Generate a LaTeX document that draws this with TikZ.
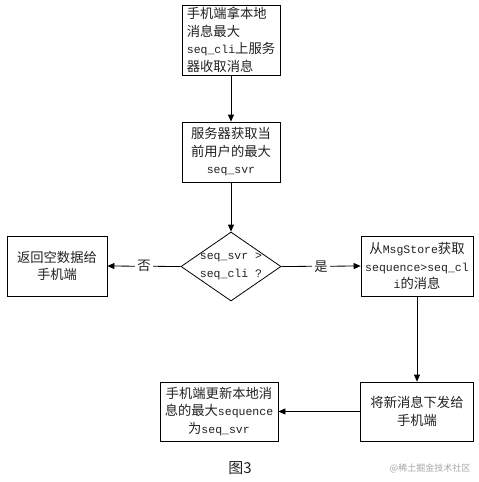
\documentclass[tikz,border=0pt]{standalone}
\usepackage{fontspec}
\setmainfont{Noto Sans CJK SC}
\newfontfamily\latmono{Liberation Mono}
\usetikzlibrary{shapes.geometric,arrows.meta}
\newcommand{\lm}[1]{{\latmono\fontsize{11.5}{17.5}\selectfont #1}}
\definecolor{txt}{HTML}{222222}
\tikzset{
  box/.style={draw=black, line width=0.8pt, inner sep=0pt, text=txt,
    font=\fontsize{13.3}{17.5}\selectfont, align=center},
  arr/.style={draw=black, line width=0.8pt, -{Triangle[length=7pt,width=6pt]}},
  lab/.style={fill=white, inner sep=2pt, text=txt, font=\fontsize{13.3}{15}\selectfont}
}
\begin{document}
\begin{tikzpicture}[x=1pt,y=-1pt]
\fill[white] (0,0) rectangle (479,482);
\useasboundingbox (0,0) rectangle (479,482);
\node[box, align=left, minimum width=98pt, minimum height=70pt] (b1) at (231,40)
  {手机端拿本地\\消息最大\\\lm{seq\_cli}上服务\\器收取消息};
\node[box, minimum width=98pt, minimum height=60pt] (b2) at (231,152)
  {服务器获取当\\前用户的最大\\\lm{seq\_svr}};
\node[draw=black, line width=0.8pt, shape=diamond, inner sep=0pt,
  minimum width=100pt, minimum height=69pt] (d) at (231,266.5) {};
\node[text=txt, align=center, inner sep=0pt, font=\fontsize{13.3}{17.5}\selectfont] (dt) at (d.center)
  {\lm{seq\_svr >}\\\lm{seq\_cli ?}};
\node[box, minimum width=100pt, minimum height=60pt] (bl) at (57,266)
  {返回空数据给\\手机端};
\node[box, minimum width=112pt, minimum height=60pt] (br) at (417,266)
  {从\lm{MsgStore}获取\\\lm{sequence>seq\_cl}\\\lm{i}的消息};
\node[box, minimum width=113pt, minimum height=59pt] (b4) at (417,411.5)
  {将新消息下发给\\手机端};
\node[box, minimum width=118pt, minimum height=59pt] (b5) at (219,411.5)
  {手机端更新本地消\\息的最大\lm{sequence}\\为\lm{seq\_svr}};
\draw[arr] (b1.south) -- (b2.north);
\draw[arr] (b2.south) -- (d.north);
\draw[arr] (d.west) -- node[lab] (no) {否} (bl.east);
\draw[arr] (d.east) -- node[lab] (yes) {是} (br.west);
\draw[arr] (br.south) -- (b4.north);
\draw[arr] (b4.west) -- (b5.east);
\node[text=txt, font=\fontsize{15}{18}\selectfont] (cap) at (240,468) {图3};
\node[text=black!35, font=\fontsize{9}{11}\selectfont] (wm) at (430,468) {@稀土掘金技术社区};
\end{tikzpicture}
\end{document}
